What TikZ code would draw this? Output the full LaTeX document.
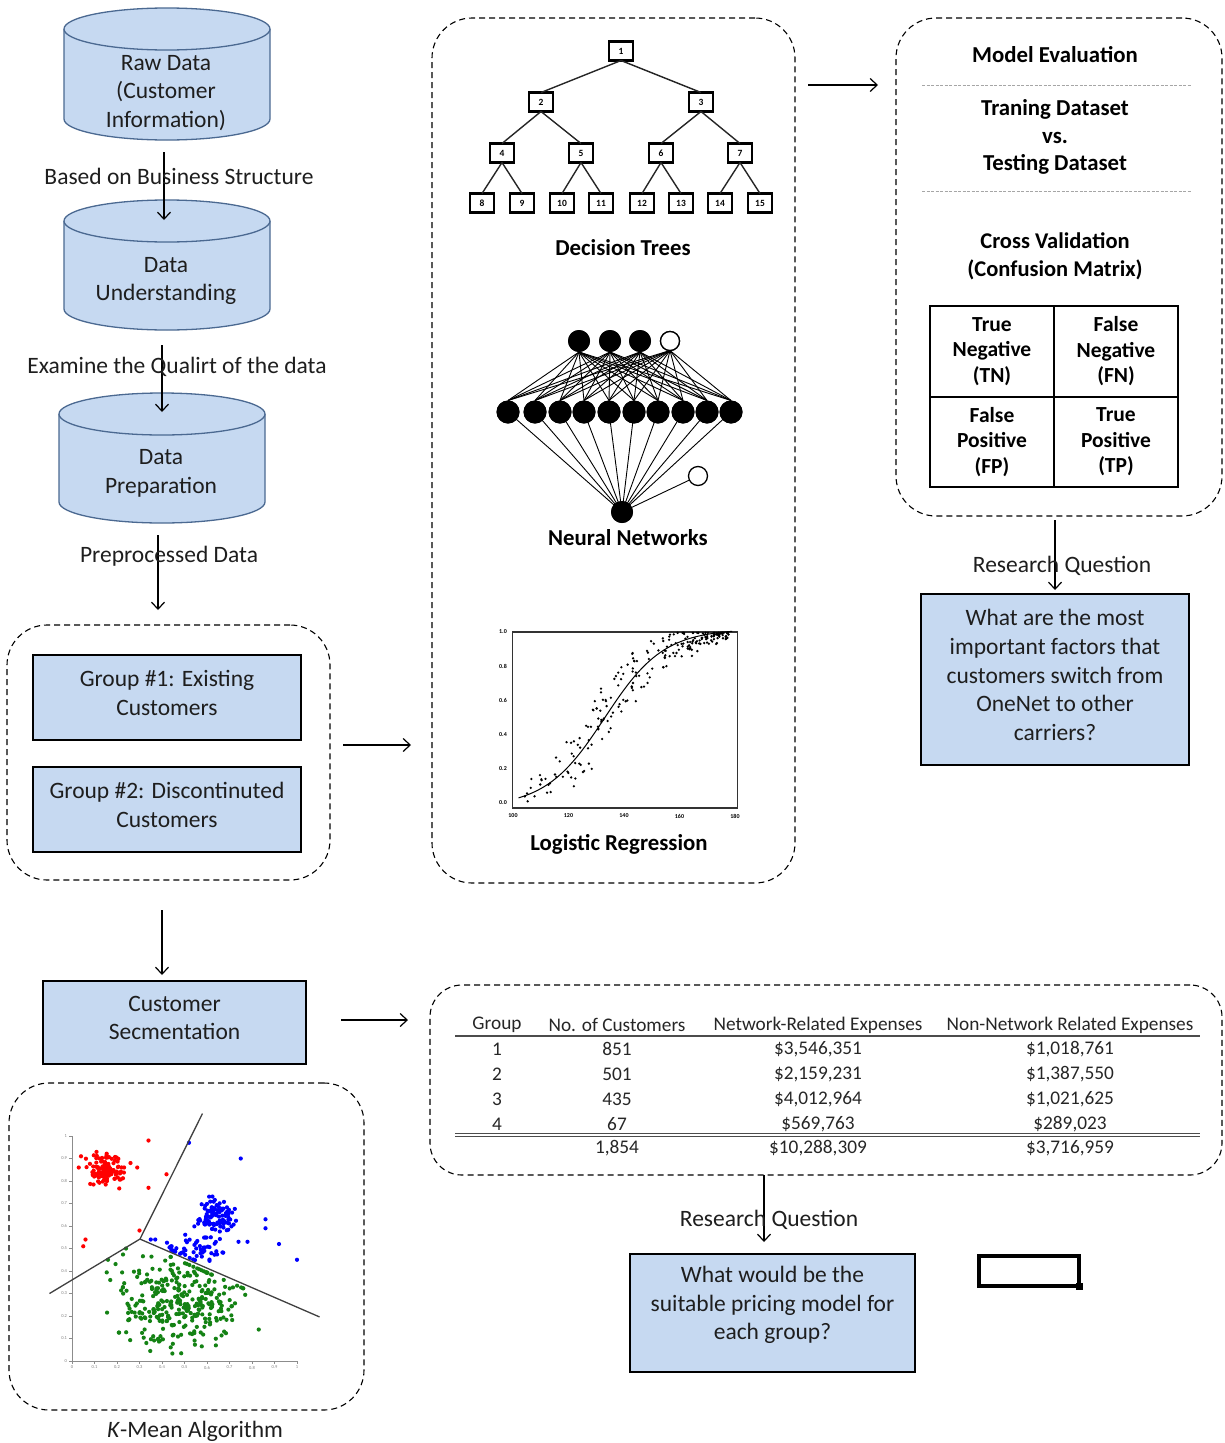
\documentclass[tikz,border=0pt]{standalone}
\usepackage{fontspec}
\setmainfont{Carlito}
\usetikzlibrary{arrows.meta,calc}
\definecolor{boxfill}{RGB}{198,217,241}
\definecolor{cylline}{RGB}{75,105,145}
\definecolor{txt}{RGB}{30,30,30}
\definecolor{kgreen}{RGB}{20,130,20}
\newcommand\drawcyl[4]{%
 \fill[boxfill] (#1-#2,#3) -- (#1-#2,#4) arc[start angle=180,end angle=0,x radius=#2,y radius=21] -- (#1+#2,#3) -- cycle;
 \draw[cylline,line width=1.3pt] (#1-#2,#3) -- (#1-#2,#4) arc[start angle=180,end angle=0,x radius=#2,y radius=21] -- (#1+#2,#3);
 \filldraw[fill=boxfill,draw=cylline,line width=1.3pt] (#1,#3) ellipse[x radius=#2,y radius=21];
}
\newcommand\trow[6]{%
 \node[tbl] (#1a) at (497,#2) {#3};
 \node[tbl] (#1b) at (617,#2) {#4};
 \node[tbl] (#1c) at (818,#2) {#5};
 \node[tbl] (#1d) at (1070,#2) {#6};
}
\begin{document}
\begin{tikzpicture}[x=1pt,y=-1pt,
 every node/.style={inner sep=0pt,outer sep=0pt},
 txtstyle/.style={font=\fontsize{23.5}{28.7}\selectfont,text=txt,align=center},
 bfstyle/.style={font=\fontsize{22.8}{27.5}\selectfont\bfseries,text=black,align=center},
 bluebox/.style={draw=black,line width=1.2pt,fill=boxfill},
 dbox/.style={draw=black,dash pattern=on 6pt off 4pt,line width=1.1pt,rounded corners=40pt},
 arr/.style={-{Straight Barb[length=7pt,width=13pt]},line width=1.2pt,black},
 tbox/.style={draw=black,line width=2.2pt,fill=white,minimum width=24pt,minimum height=19pt,font=\fontsize{9.5}{10}\selectfont\bfseries},
 tedge/.style={line width=1.4pt,black!85},
 nfull/.style={circle,fill=black,minimum size=22pt},
 nopen/.style={circle,draw=black,line width=1.3pt,fill=white,minimum size=19pt},
 cell/.style={draw=black,line width=2pt,align=center,font=\fontsize{21.5}{25.5}\selectfont\bfseries,minimum width=124pt},
 tbl/.style={font=\fontsize{19.3}{20}\selectfont,text=black!85},
 ticklab/.style={font=\fontsize{6}{6}\selectfont\bfseries},
 ktick/.style={font=\fontsize{4.5}{5}\selectfont,text=black!50},
 sepline/.style={draw=black!35,line width=1pt,dash pattern=on 3pt off 1.5pt},
]
\fill[white] (0,0) rectangle (1225,1443);
\useasboundingbox (0,0) rectangle (1225,1443);

% ---------- left column: cylinders ----------
\drawcyl{167}{103}{29}{119}
\drawcyl{167}{103}{221}{309}
\drawcyl{162}{103}{414}{502}
\node[minimum width=206pt,minimum height=132pt] (c1) at (167,74) {};
\node[minimum width=206pt,minimum height=130pt] (c2) at (167,265) {};
\node[minimum width=206pt,minimum height=130pt] (c3) at (162,458) {};
\node[txtstyle] (c1t) at (166,93) {Raw Data\\(Customer\\Information)};
\node[txtstyle] (c2t) at (166,281) {Data\\Understanding};
\node[txtstyle] (c3t) at (161,473) {Data\\Preparation};

% group box
\node[dbox,minimum width=323pt,minimum height=255pt] (grp) at (168.5,752.5) {};
\node[bluebox,minimum width=268pt,minimum height=85pt] (g1) at (167,697.5) {};
\node[txtstyle] (g1t) at (167,693) {Group \#1: Existing\\Customers};
\node[bluebox,minimum width=268pt,minimum height=85pt] (g2) at (167,809.5) {};
\node[txtstyle] (g2t) at (167,805) {Group \#2: Discontinuted\\Customers};

\draw[arr] ($(c1.south)+(-3,12)$) -- ($(c2.north)+(-3,20)$);
\node[txtstyle] (l1) at (179,176) {Based on Business Structure};
\draw[arr] ($(c2.south)+(-5,15)$) -- ($(c3.north)+(0,19)$);
\node[txtstyle] (l2) at (177,367) {Examine the Qualirt of the data};
\draw[arr] ($(c3.south)+(-4,12)$) -- ($(grp.north)+(-10.5,-15)$);
\node[txtstyle] (l3) at (169,556) {Preprocessed Data};

% segmentation
\node[bluebox,minimum width=263pt,minimum height=83pt] (seg) at (174.5,1022.5) {};
\node[txtstyle] (segt) at (174.5,1018) {Customer\\Secmentation};
\draw[arr] ($(grp.south)+(-6.5,30)$) -- ($(seg.north)+(-12.5,-6)$);

% k-means box
\node[dbox,minimum width=355pt,minimum height=327pt] (km) at (186.5,1246.5) {};
\node[txtstyle] (kmcap) at (195,1431) {\textit{K}-Mean Algorithm};

% axes
\draw[black!45,line width=0.6pt] (72,1136) -- (72,1361) -- (297,1361);
\foreach \t/\lab in {0/0,1/0.1,2/0.2,3/0.3,4/0.4,5/0.5,6/0.6,7/0.7,8/0.8,9/0.9,10/1}{
  \draw[black!45,line width=0.5pt] (72,{1361-22.5*\t}) -- (69,{1361-22.5*\t});
  \draw[black!45,line width=0.5pt] ({72+22.5*\t},1361) -- ({72+22.5*\t},1364);
  \node[ktick,anchor=east] (ky\t) at (67,{1361-22.5*\t}) {\lab};
  \node[ktick,anchor=north] (kx\t) at ({72+22.5*\t},1366) {\lab};
}
\pgfmathsetseed{4242}
% red
\foreach \i in {1,...,115}{
  \pgfmathsetmacro\rx{0.15+0.036*(rand+rand+rand)}
  \pgfmathsetmacro\ry{0.85+0.033*(rand+rand+rand)}
  \fill[red] ({72+225*\rx},{1361-225*\ry}) circle[radius=2.1];
}
\foreach \rx/\ry in {0.04/0.91,0.05/0.51,0.06/0.54,0.29/0.86,0.34/0.98,0.34/0.77,0.42/0.83,0.30/0.58,0.26/0.88,0.03/0.86}{
  \fill[red] ({72+225*\rx},{1361-225*\ry}) circle[radius=2.1];
}
% blue
\foreach \i in {1,...,110}{
  \pgfmathsetmacro\bx{0.64+0.044*(rand+rand+rand)}
  \pgfmathsetmacro\by{0.64+0.038*(rand+rand+rand)}
  \fill[blue] ({72+225*\bx},{1361-225*\by}) circle[radius=2.1];
}
\foreach \i in {1,...,55}{
  \pgfmathsetmacro\bx{max(0.34,0.55+0.09*(rand+rand))}
  \pgfmathsetmacro\bb{0.542-0.4336*(\bx-0.302)}
  \pgfmathsetmacro\by{max(\bb+0.012,0.49+0.04*(rand+rand))}
  \fill[blue] ({72+225*\bx},{1361-225*\by}) circle[radius=2.1];
}
\foreach \bx/\by in {0.52/0.97,0.75/0.9,0.86/0.63,0.86/0.59,0.92/0.52,1.0/0.45,0.78/0.53,0.74/0.53,0.35/0.54,0.37/0.54}{
  \fill[blue] ({72+225*\bx},{1361-225*\by}) circle[radius=2.1];
}
% green
\foreach \i in {1,...,320}{
  \pgfmathsetmacro\gx{0.47+0.165*(rand+rand)}
  \pgfmathsetmacro\gb{ifthenelse(\gx<0.302,0.542+(\gx-0.302)*0.602,0.542-0.4336*(\gx-0.302))}
  \pgfmathsetmacro\gy{max(0.03,min(\gb-0.02,0.25+0.12*(rand+rand)))}
  \fill[kgreen] ({72+225*\gx},{1361-225*\gy}) circle[radius=2.1];
}
\foreach \gx/\gy in {0.16/0.45,0.17/0.36,0.24/0.5,0.83/0.14}{
  \fill[kgreen] ({72+225*\gx},{1361-225*\gy}) circle[radius=2.1];
}
\coordinate (kc) at ({72+225*0.302},{1361-225*0.542});
\coordinate (k1) at ({72+225*0.58},{1361-225*1.1});
\coordinate (k2) at ({72+225*(-0.1)},{1361-225*0.3});
\coordinate (k3) at ({72+225*1.1},{1361-225*0.196});
\draw[black!75,line width=1.3pt] (k1) -- (kc) -- (k2) (kc) -- (k3);

% ---------- middle box ----------
\node[dbox,minimum width=363pt,minimum height=865pt] (mid) at (613.5,450.5) {};
\draw[arr] ($(grp.east)+(13,-7.5)$) -- ($(mid.west)+(-21,294.5)$);

% decision tree
\node[tbox] (t1) at (621,51) {1};
\node[tbox] (t2) at (541,102) {2};
\node[tbox] (t3) at (701,102) {3};
\node[tbox] (t4) at (502,153) {4};
\node[tbox] (t5) at (581,153) {5};
\node[tbox] (t6) at (661,153) {6};
\node[tbox] (t7) at (740,153) {7};
\node[tbox] (t8) at (482,203) {8};
\node[tbox] (t9) at (522,203) {9};
\node[tbox] (t10) at (562,203) {10};
\node[tbox] (t11) at (601,203) {11};
\node[tbox] (t12) at (642,203) {12};
\node[tbox] (t13) at (681,203) {13};
\node[tbox] (t14) at (720,203) {14};
\node[tbox] (t15) at (760,203) {15};
\foreach \p/\c in {1/2,1/3,2/4,2/5,3/6,3/7,4/8,4/9,5/10,5/11,6/12,6/13,7/14,7/15}{
  \draw[tedge] (t\p.south) -- (t\c.north);
}
\node[bfstyle] (dtl) at (623,248) {Decision Trees};

% neural network
\foreach \x [count=\i] in {579,610,640}{ \node[nfull] (nt\i) at (\x,341) {}; }
\node[nopen] (nt4) at (670,341) {};
\foreach \x [count=\i] in {508,535,560,584,609,634,658,683,707,731}{ \node[nfull,minimum size=23pt] (nm\i) at (\x,412) {}; }
\node[nfull] (nb) at (622,512) {};
\node[nopen] (no) at (698,476) {};
\foreach \i in {1,...,4}{\foreach \j in {1,...,10}{ \draw[black,line width=0.9pt] (nt\i.south) -- (nm\j.north); }}
\foreach \j in {1,...,10}{ \draw[black,line width=0.9pt] (nm\j.center) -- (nb.center); }
\draw[black,line width=0.9pt] (nb) -- (no);
\foreach \x [count=\i] in {579,610,640}{ \node[nfull] (ntb\i) at (\x,341) {}; }
\node[nopen] (ntb4) at (670,341) {};
\foreach \x [count=\i] in {508,535,560,584,609,634,658,683,707,731}{ \node[nfull,minimum size=23pt] (nmb\i) at (\x,412) {}; }
\node[nfull] (nbb) at (622,512) {};
\node[bfstyle] (nnl) at (628,538) {Neural Networks};

% logistic regression
\node[draw=black!80,line width=1.2pt,minimum width=225pt,minimum height=176pt] (lr) at (625,720) {};
\foreach \v/\lab in {1/1.0,0.8/0.8,0.6/0.6,0.4/0.4,0.2/0.2,0/0.0}{
  \node[ticklab] (ly\lab) at (503,{803-171*\v}) {\lab};
}
\foreach \v in {100,120,140,160,180}{
  \node[ticklab] (lx\v) at ({513+(\v-100)*2.775},816) {\v};
}
\draw[black,line width=1pt,domain=102:179,samples=60] plot ({513+(\x-100)*2.775},{807-178/(1+exp(-0.094*(\x-133)))});
\pgfmathsetseed{99}
\foreach \i in {1,...,230}{
  \pgfmathsetmacro\lxx{104+74*(rnd^0.7)}
  \pgfmathsetmacro\lf{1/(1+exp(-0.094*(\lxx-133)))}
  \pgfmathsetmacro\lyy{max(0.01,min(0.995,\lf+(0.04+0.45*\lf*(1-\lf))*(rand+rand)/1.3))}
  \fill[black] ({513+(\lxx-100)*2.775},{803-171*\lyy}) circle[radius=1.3];
}
\node[bfstyle] (lrl) at (619,844) {Logistic Regression};

% ---------- model evaluation ----------
\node[dbox,minimum width=326pt,minimum height=498pt] (ev) at (1059,267) {};
\draw[arr] ($(mid.north east)+(13,67)$) -- ($(ev.north west)+(-18,67)$);
\node[bfstyle] (me) at (1055,55) {Model Evaluation};
\draw[sepline] (922,85) -- (1192,85);
\node[bfstyle] (tvt) at (1055,137) {Traning Dataset\\vs.\\Testing Dataset};
\draw[sepline] (922,191) -- (1192,191);
\node[bfstyle,font=\fontsize{22.5}{28}\selectfont\bfseries] (cv) at (1055,256) {Cross Validation\\(Confusion Matrix)};
\node[cell,minimum height=91pt] (tn) at (992,351.5) {True\\Negative\\(TN)};
\node[cell,minimum height=91pt] (fn) at (1116,351.5) {False\\Negative\\(FN)};
\node[cell,minimum height=90pt] (fp) at (992,442) {False\\Positive\\(FP)};
\node[cell,minimum height=90pt] (tp) at (1116,442) {True\\Positive\\(TP)};

\node[bluebox,minimum width=268pt,minimum height=171pt] (rq1) at (1055,679.5) {};
\node[txtstyle] (rq1t) at (1055,675) {What are the most\\important factors that\\customers switch from\\OneNet to other\\carriers?};
\draw[arr] ($(ev.south)+(-4,4)$) -- ($(rq1.north)+(0,-4)$);
\node[txtstyle] (rq1l) at (1062,566) {Research Question};

% ---------- table ----------
\node[dbox,rounded corners=32pt,minimum width=792pt,minimum height=190pt] (tb) at (826,1080) {};
\draw[arr] ($(seg.east)+(35,-2.5)$) -- ($(tb.west)+(-22,-60)$);
\trow{h}{1025}{Group}{No. of Customers}{Network-Related Expenses}{Non-Network Related Expenses}
\draw[black!70,line width=1.5pt] (455,1036) -- (1200,1036);
\trow{ra}{1049}{1}{851}{\$3,546,351}{\$1,018,761}
\trow{rb}{1074}{2}{501}{\$2,159,231}{\$1,387,550}
\trow{rc}{1099}{3}{435}{\$4,012,964}{\$1,021,625}
\trow{rd}{1124}{4}{67}{\$569,763}{\$289,023}
\draw[black!70,line width=1.1pt] (455,1133.5) -- (1200,1133.5);
\draw[black!70,line width=1.1pt] (455,1136.8) -- (1200,1136.8);
\node[tbl] (tot1) at (617,1148) {1,854};
\node[tbl] (tot2) at (818,1148) {\$10,288,309};
\node[tbl] (tot3) at (1070,1148) {\$3,716,959};

\node[bluebox,minimum width=285pt,minimum height=118pt] (rq2) at (772.5,1313) {};
\node[txtstyle] (rq2t) at (772.5,1305) {What would be the\\suitable pricing model for\\each group?};
\draw[arr] ($(tb.south)+(-62,0)$) -- ($(rq2.north)+(-8.5,-12)$);
\node[txtstyle] (rq2l) at (769,1220) {Research Question};

% blank box
\node[draw=black,line width=4pt,minimum width=100pt,minimum height=30pt] (blank) at (1029,1271) {};
\node[fill=black,minimum size=7pt] (blankh) at (1079.5,1286.5) {};
\end{tikzpicture}
\end{document}
